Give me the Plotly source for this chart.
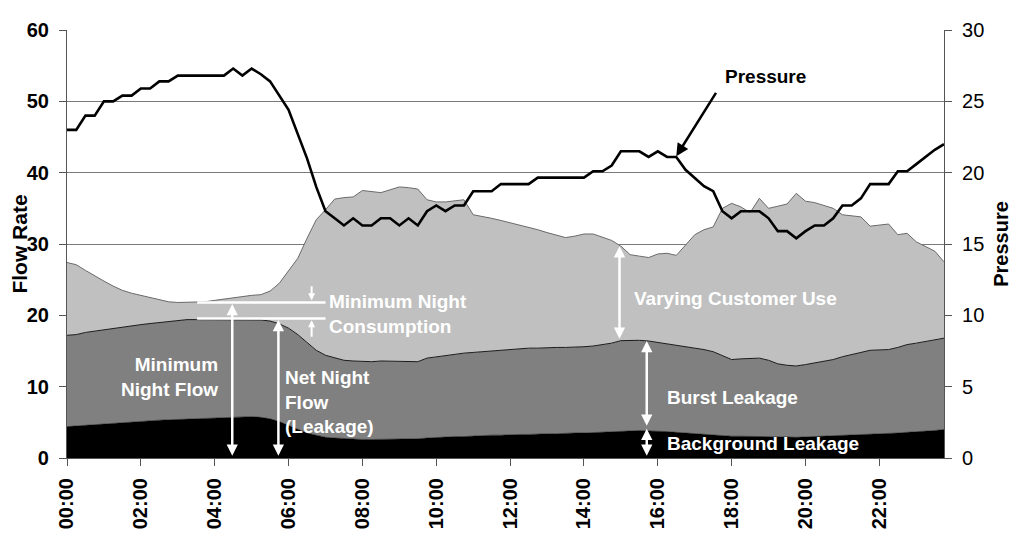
import plotly.graph_objects as go

times = [f"{h:02d}:{m:02d}" for h in range(24) for m in (0, 15, 30, 45)]
tick_labels = ["00:00", "02:00", "04:00", "06:00", "08:00", "10:00",
               "12:00", "14:00", "16:00", "18:00", "20:00", "22:00"]

# Top of the black band (background leakage)
background_leakage = [
    4.4, 4.5, 4.6, 4.7, 4.8, 4.9, 5.0, 5.05, 5.1, 5.2, 5.3, 5.35,
    5.4, 5.45, 5.5, 5.55, 5.6, 5.6, 5.65, 5.7, 5.8, 5.7, 5.5, 5.1,
    4.6, 4.0, 3.5, 3.2, 2.9, 2.8, 2.7, 2.6, 2.6, 2.6, 2.6, 2.6,
    2.6, 2.7, 2.7, 2.8, 2.9, 2.9, 3.0, 3.0, 3.1, 3.1, 3.2, 3.2,
    3.3, 3.3, 3.3, 3.4, 3.4, 3.4, 3.5, 3.5, 3.5, 3.55, 3.6, 3.7,
    3.8, 3.85, 3.85, 3.8, 3.8, 3.7, 3.6, 3.5, 3.35, 3.25, 3.15, 3.1,
    3.05, 3.05, 3.05, 3.05, 3.0, 2.95, 2.95, 2.9, 2.95, 3.0, 3.05, 3.1,
    3.2, 3.25, 3.3, 3.35, 3.4, 3.45, 3.5, 3.6, 3.65, 3.75, 3.85, 4.0]

# Top of the dark grey band (background + burst leakage)
burst_leakage_top = [
    17.2, 17.3, 17.6, 17.8, 18.0, 18.2, 18.4, 18.55, 18.7, 18.85, 19.0, 19.2,
    19.35, 19.4, 19.4, 19.4, 19.4, 19.4, 19.4, 19.4, 19.4, 19.35, 19.2, 18.8,
    18.2, 17.3, 16.2, 15.1, 14.4, 14.0, 13.7, 13.6, 13.5, 13.5, 13.6, 13.6,
    13.6, 13.5, 13.5, 14.0, 14.2, 14.3, 14.5, 14.7, 14.8, 14.9, 15.0, 15.1,
    15.2, 15.3, 15.4, 15.4, 15.5, 15.5, 15.5, 15.5, 15.6, 15.7, 15.9, 16.1,
    16.45, 16.5, 16.5, 16.4, 16.2, 16.1, 15.9, 15.6, 15.4, 15.2, 14.9, 14.3,
    13.8, 13.9, 14.0, 14.0, 13.7, 13.2, 13.0, 12.9, 13.1, 13.3, 13.6, 13.8,
    14.2, 14.5, 14.8, 15.1, 15.15, 15.2, 15.5, 15.9, 16.1, 16.3, 16.55, 16.8]

# Top of the light grey band (total flow incl. customer use)
total_flow = [
    27.4, 27.1, 26.3, 25.5, 24.8, 24.1, 23.5, 23.1, 22.8, 22.5, 22.2, 21.9,
    21.8, 21.8, 21.8, 21.9, 22.1, 22.3, 22.4, 22.6, 22.8, 22.9, 23.4, 24.5,
    26.3, 28.0, 30.8, 33.4, 34.8, 36.3, 36.5, 36.6, 37.5, 37.4, 37.2, 37.6,
    38.0, 37.9, 37.7, 36.2, 35.9, 35.9, 36.0, 36.2, 34.1, 33.9, 33.6, 33.3,
    33.0, 32.7, 32.3, 32.0, 31.6, 31.2, 30.9, 31.1, 31.4, 31.4, 31.0, 30.5,
    29.7, 28.5, 28.3, 28.1, 28.6, 28.7, 28.4, 29.9, 31.3, 32.0, 32.4, 35.0,
    35.7, 35.2, 34.4, 36.4, 35.0, 35.3, 35.6, 37.1, 36.0, 35.8, 35.4, 35.0,
    34.1, 34.0, 33.8, 32.5, 32.6, 32.8, 31.3, 31.5, 30.3, 29.7, 29.0, 27.5]

pressure = [
    23.0, 23.0, 24.0, 24.0, 25.0, 25.0, 25.4, 25.4, 25.9, 25.9, 26.4, 26.4,
    26.8, 26.8, 26.8, 26.8, 26.8, 26.8, 27.3, 26.8, 27.3, 26.9, 26.4, 25.4,
    24.4, 22.7, 21.0, 19.0, 17.3, 16.8, 16.3, 16.8, 16.3, 16.3, 16.8, 16.8,
    16.3, 16.8, 16.3, 17.3, 17.7, 17.3, 17.7, 17.7, 18.7, 18.7, 18.7, 19.2,
    19.2, 19.2, 19.2, 19.65, 19.65, 19.65, 19.65, 19.65, 19.65, 20.1, 20.1, 20.5,
    21.5, 21.5, 21.5, 21.1, 21.5, 21.1, 21.1, 20.2, 19.6, 19.05, 18.7, 17.3,
    16.8, 17.3, 17.3, 17.3, 16.8, 15.9, 15.9, 15.4, 15.9, 16.3, 16.3, 16.8,
    17.7, 17.7, 18.2, 19.2, 19.2, 19.2, 20.1, 20.1, 20.6, 21.1, 21.6, 22.0]

FONT = "Arial, Liberation Sans, sans-serif"

fig = go.Figure()
fig.add_trace(go.Scatter(x=times, y=background_leakage, mode="lines",
                         fill="tozeroy", fillcolor="#000000",
                         line=dict(color="#000000", width=0.5),
                         name="Background Leakage"))
fig.add_trace(go.Scatter(x=times, y=burst_leakage_top, mode="lines",
                         fill="tonexty", fillcolor="#808080",
                         line=dict(color="#1a1a1a", width=1),
                         name="Burst Leakage"))
fig.add_trace(go.Scatter(x=times, y=total_flow, mode="lines",
                         fill="tonexty", fillcolor="#c0c0c0",
                         line=dict(color="#6a6a6a", width=1),
                         name="Customer Use"))
fig.add_trace(go.Scatter(x=times, y=pressure, mode="lines", yaxis="y2",
                         line=dict(color="#000000", width=2.6),
                         name="Pressure"))

white = dict(color="white", size=19, family=FONT, weight="bold")


def arrow(x, y, ax, ay, color="white", width=2.5, size=0.9, both=True):
    fig.add_annotation(x=x, y=y, ax=ax, ay=ay, xref="x", yref="y",
                       axref="x", ayref="y", text="", showarrow=True,
                       arrowhead=2, arrowsize=size, arrowwidth=width,
                       arrowcolor=color, standoff=0, startstandoff=0,
                       arrowside="end+start" if both else "end")


# horizontal marker lines
for yv in (21.8, 19.55):
    fig.add_shape(type="line", xref="x", yref="y", x0=14.1, x1=28.0,
                  y0=yv, y1=yv, line=dict(color="white", width=2.5),
                  layer="above")

arrow(17.9, 21.6, 17.9, 0.1)
arrow(22.9, 19.35, 22.9, 0.1)
arrow(26.5, 22.1, 26.5, 24.3, size=0.7, width=2, both=False)
arrow(26.5, 19.3, 26.5, 16.8, size=0.7, width=2, both=False)
arrow(59.85, 29.7, 59.85, 16.5)
arrow(62.8, 16.4, 62.8, 4.3)
arrow(62.8, 4.1, 62.8, 0.1)
arrow(66.0, 42.3, 70.4, 51.4, color="black", width=2.5, size=1.0, both=False)

fig.add_annotation(x=16.6, y=11.4, xref="x", yref="y", xanchor="right",
                   yanchor="middle", align="right", showarrow=False,
                   text="Minimum<br>Night Flow", font=white)
fig.add_annotation(x=23.4, y=7.9, xref="x", yref="y", xanchor="left",
                   yanchor="middle", align="left", showarrow=False,
                   text="Net Night<br>Flow<br>(Leakage)", font=white)
fig.add_annotation(x=28.2, y=20.15, xref="x", yref="y", xanchor="left",
                   yanchor="middle", align="left", showarrow=False,
                   text="Minimum Night<br>Consumption", font=white)
fig.add_annotation(x=61.2, y=22.4, xref="x", yref="y", xanchor="left",
                   yanchor="middle", align="left", showarrow=False,
                   text="Varying Customer Use", font=white)
fig.add_annotation(x=64.8, y=8.55, xref="x", yref="y", xanchor="left",
                   yanchor="middle", align="left", showarrow=False,
                   text="Burst Leakage", font=white)
fig.add_annotation(x=64.8, y=2.06, xref="x", yref="y", xanchor="left",
                   yanchor="middle", align="left", showarrow=False,
                   text="Background Leakage", font=white)
fig.add_annotation(x=71.1, y=53.55, xref="x", yref="y", xanchor="left",
                   yanchor="middle", align="left", showarrow=False,
                   text="Pressure",
                   font=dict(color="black", size=19, family=FONT, weight="bold"))

# The page body adds an 8 px offset, so the figure is sized to fit the window.
fig.update_layout(
    width=1016, height=543,
    margin=dict(l=59, r=80, t=22, b=93),
    paper_bgcolor="white", plot_bgcolor="white",
    showlegend=False,
    font=dict(family=FONT, color="black"),
    xaxis=dict(type="category", range=[0, 95], tickmode="array",
               tickvals=tick_labels, ticktext=tick_labels, tickangle=-90,
               ticks="outside", ticklen=7, tickcolor="#555555",
               showline=True, linecolor="#555555", linewidth=1.2,
               showgrid=False, zeroline=False, automargin=False,
               tickfont=dict(size=20, family=FONT, weight="bold"),
               ticklabelstandoff=4),
    yaxis=dict(range=[0, 60], dtick=10, ticks="outside", ticklen=7,
               tickcolor="#555555", showline=True, linecolor="#555555",
               linewidth=1.2, showgrid=True, gridcolor="#7a7a7a",
               gridwidth=1, zeroline=False, automargin=False,
               tickfont=dict(size=20, family=FONT, weight="bold"),
               ticklabelstandoff=6,
               title=dict(text="Flow Rate", standoff=4,
                          font=dict(size=21, family=FONT, weight="bold"))),
    yaxis2=dict(range=[0, 30], dtick=5, overlaying="y", side="right",
                ticks="outside", ticklen=7, tickcolor="#555555",
                showline=True, linecolor="#555555", linewidth=1.2,
                showgrid=False, zeroline=False, automargin=False,
                tickfont=dict(size=20, family=FONT),
                ticklabelstandoff=6,
                title=dict(text="Pressure", standoff=10,
                           font=dict(size=20, family=FONT, weight="bold"))),
)

fig.write_html("out.html")
